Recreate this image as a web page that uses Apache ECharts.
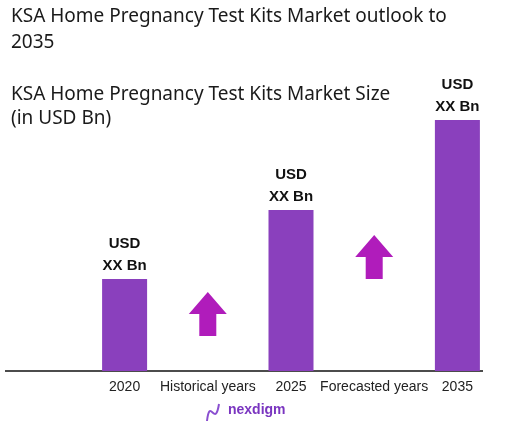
<!DOCTYPE html>
<html>
<head>
<meta charset="utf-8">
<script src="https://cdn.jsdelivr.net/npm/echarts@6/dist/echarts.min.js"></script>
<style>html,body{margin:0;padding:0;background:#fff;}#c{width:510px;height:431px;}</style>
</head>
<body>
<div id="c"></div>
<script>
var categories = ['2020', 'Historical years', '2025', 'Forecasted years', '2035'];
var marketSize = [92, null, 161, null, 251];
var growthArrows = [null, 57, null, 114, null];
var barLabel = 'USD\nXX Bn';

var chart = echarts.init(document.getElementById('c'));
var arrowPath = 'path://M19 0 L38 22 L27.5 22 L27.5 44 L10.5 44 L10.5 22 L0 22 Z';
chart.setOption({
  animation: false,
  backgroundColor: '#ffffff',
  title: [
    { text: 'KSA Home Pregnancy Test Kits Market outlook to\n2035', left: 11, top: 4, padding: 0,
      textStyle: { fontFamily: 'Noto Sans', fontSize: 19, fontWeight: 'normal', color: '#1a1a1a', lineHeight: 26 } },
    { text: 'KSA Home Pregnancy Test Kits Market Size\n(in USD Bn)', left: 11, top: 83, padding: 0,
      textStyle: { fontFamily: 'Noto Sans', fontSize: 19, fontWeight: 'normal', color: '#1a1a1a', lineHeight: 24 } }
  ],
  grid: { left: 83, right: 11, top: 111, bottom: 60 },
  xAxis: {
    type: 'category', data: categories,
    axisLine: { show: false }, axisTick: { show: false },
    axisLabel: { color: '#222', fontFamily: 'Liberation Sans', fontSize: 14, margin: 9, interval: 0 }
  },
  yAxis: { type: 'value', min: 0, max: 260, show: false, splitLine: { show: false } },
  series: [
    { type: 'bar', data: marketSize, barWidth: 45, itemStyle: { color: '#8a40bd' },
      label: { show: true, position: 'top', distance: 2, formatter: barLabel,
        fontFamily: 'Liberation Sans', fontWeight: 'bold', fontSize: 15, lineHeight: 22, color: '#111' } },
    { type: 'scatter', data: growthArrows, symbol: arrowPath, symbolSize: [38, 44],
      itemStyle: { color: '#b01cbb', opacity: 1 }, z: 3 }
  ],
  graphic: [
    { type: 'line', shape: { x1: 5, y1: 371, x2: 483, y2: 371 }, style: { stroke: '#111', lineWidth: 1.5 } },
    { type: 'bezierCurve', shape: { x1: 207, y1: 421, cpx1: 210, cpy1: 396, cpx2: 215, cpy2: 429, x2: 219, y2: 404 },
      style: { stroke: '#8a4fd0', lineWidth: 2, fill: null } },
    { type: 'text', left: 228, top: 403, style: { text: 'nexdigm', fontFamily: 'Liberation Sans', fontSize: 14, fontWeight: 'bold', fill: '#7a35c0' } }
  ]
});
</script>
</body>
</html>
